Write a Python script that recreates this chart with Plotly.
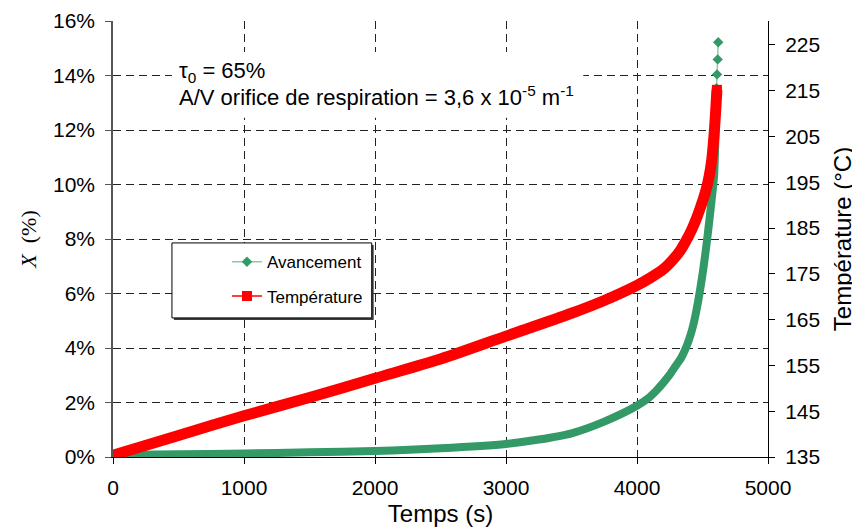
"""Avancement X (%) et température en fonction du temps (emballement thermique)."""

import plotly.graph_objects as go

# ---------------------------------------------------------------------------
# Data
# ---------------------------------------------------------------------------

# Avancement X (%) vs temps (s)
t_av = [0, 500, 1000, 1500, 2000, 2500, 3000, 3250, 3500, 3750, 4000, 4084,
        4150, 4200, 4250, 4300, 4335, 4366, 4400, 4430, 4466, 4500, 4532,
        4555, 4570, 4588, 4596, 4602, 4607, 4611, 4616, 4620]
x_av = [0.07, 0.10, 0.13, 0.17, 0.22, 0.32, 0.48, 0.64, 0.87, 1.30, 1.88, 2.15,
        2.45, 2.72, 3.02, 3.38, 3.62, 3.92, 4.35, 4.85, 5.7, 6.7, 7.85,
        8.8, 9.45, 10.3, 11.3, 12.4, 13.53, 14.04, 14.59, 15.22]

# Température (°C) vs temps (s)
t_temp = [0, 500, 1000, 1500, 2000, 2500, 3000, 3500, 3750, 4000, 4100, 4200,
          4280, 4330, 4366, 4420, 4455, 4490, 4511, 4530, 4550, 4570, 4588,
          4600, 4610]
temp = [135.4, 139.7, 144.0, 148.0, 152.2, 156.4, 161.4, 166.4, 169.2, 172.5,
        174.1, 176.0, 178.3, 180.1, 181.8, 184.8, 187.2, 190.0, 191.8, 193.7,
        196.2, 199.8, 205.3, 210.3, 215.2]

x_ticks = [0, 1000, 2000, 3000, 4000, 5000]
y_ticks = [0, 2, 4, 6, 8, 10, 12, 14, 16]
y2_ticks = [135, 145, 155, 165, 175, 185, 195, 205, 215, 225]

GREEN = "#339966"
RED = "#ff0000"
FONT = "Liberation Sans, Arial, sans-serif"
N_SPARSE = 4  # last points of the avancement drawn as separate markers

fig = go.Figure()

# -- Avancement: dense band + sparse markers at the end ---------------------
fig.add_trace(go.Scatter(
    x=t_av[:len(t_av) - N_SPARSE + 1], y=x_av[:len(x_av) - N_SPARSE + 1],
    mode="lines", line=dict(color=GREEN, width=8, shape="spline", smoothing=0.8),
    showlegend=False, hoverinfo="skip",
))
fig.add_trace(go.Scatter(
    x=t_av[-N_SPARSE:], y=x_av[-N_SPARSE:],
    mode="lines+markers", name="Avancement", legendgroup="a",
    line=dict(color="rgba(51,153,102,0.55)", width=1.5),
    marker=dict(symbol="diamond", size=8, color=GREEN),
))

# -- Température (right axis) -----------------------------------------------
fig.add_trace(go.Scatter(
    x=t_temp, y=temp, yaxis="y2",
    mode="lines", line=dict(color=RED, width=11, shape="spline", smoothing=0.8),
    showlegend=False, hoverinfo="skip",
))
fig.add_trace(go.Scatter(
    x=t_temp[-1:], y=temp[-1:], yaxis="y2",
    mode="lines+markers", name="Température", legendgroup="b",
    line=dict(color=RED, width=1.5),
    marker=dict(symbol="square", size=10, color=RED),
))

# -- Legend box and text box -------------------------------------------------
fig.add_shape(type="rect", xref="paper", yref="paper",
              x0=0.093, x1=0.398, y0=0.314, y1=0.486,
              fillcolor="#404040", line=dict(width=0), layer="above")
fig.add_shape(type="rect", xref="paper", yref="paper",
              x0=0.090, x1=0.395, y0=0.319, y1=0.491,
              fillcolor="white", line=dict(color="black", width=1), layer="above")
fig.add_shape(type="rect", xref="paper", yref="paper",
              x0=0.090, x1=0.718, y0=0.778, y1=0.929,
              fillcolor="white", line=dict(width=0), layer="above")

fig.add_annotation(
    xref="paper", yref="paper", x=0.097, y=0.883, xanchor="left", yanchor="middle",
    text="τ<sub>0</sub> = 65%", showarrow=False,
    font=dict(family=FONT, size=22, color="black"),
)
fig.add_annotation(
    xref="paper", yref="paper", x=0.097, y=0.827, xanchor="left", yanchor="middle",
    text="A/V orifice de respiration = 3,6 x 10<sup>-5</sup> m<sup>-1</sup>",
    showarrow=False, font=dict(family=FONT, size=22, color="black"),
)

# -- Layout ------------------------------------------------------------------
grid = dict(showgrid=True, gridcolor="#222222", gridwidth=1, griddash="8px,5px")

# the page adds an 8px body margin, so the figure is 8px smaller than the window
fig.update_layout(
    width=852, height=521,
    margin=dict(l=105, r=92, t=13, b=72),
    plot_bgcolor="white", paper_bgcolor="white",
    font=dict(family=FONT, size=21, color="black"),
    xaxis=dict(
        range=[0, 5000], tickvals=x_ticks, ticktext=[str(v) for v in x_ticks],
        ticks="outside", ticklen=6, tickcolor="black", ticklabelstandoff=6,
        showline=True, linecolor="black", linewidth=1,
        zeroline=False, automargin=False,
        title=dict(text="Temps (s)", font=dict(size=24), standoff=6),
        **grid,
    ),
    yaxis=dict(
        range=[0, 16], tickvals=y_ticks, ticktext=[f"{v}%" for v in y_ticks],
        ticks="outside", ticklen=6, tickcolor="#555555",
        showline=True, linecolor="#555555", linewidth=1.5,
        zeroline=False, automargin=False, ticklabelstandoff=6,
        title=dict(text="<i>X</i>  (%)", standoff=10,
                   font=dict(family="Liberation Serif, Times New Roman, serif", size=22)),
        **grid,
    ),
    yaxis2=dict(
        overlaying="y", side="right",
        range=[135, 230.24], tickvals=y2_ticks, ticktext=[str(v) for v in y2_ticks],
        ticks="outside", ticklen=6, tickcolor="black",
        showline=True, linecolor="black", linewidth=1,
        showgrid=False, zeroline=False, automargin=False, ticklabelstandoff=6,
        title=dict(text="Température (°C)", font=dict(size=24), standoff=14),
    ),
    legend=dict(
        x=0.174, y=0.488, xanchor="left", yanchor="top",
        bgcolor="rgba(0,0,0,0)", borderwidth=0,
        font=dict(family=FONT, size=17), tracegroupgap=9,
    ),
    showlegend=True,
)

fig.write_html("out.html")
